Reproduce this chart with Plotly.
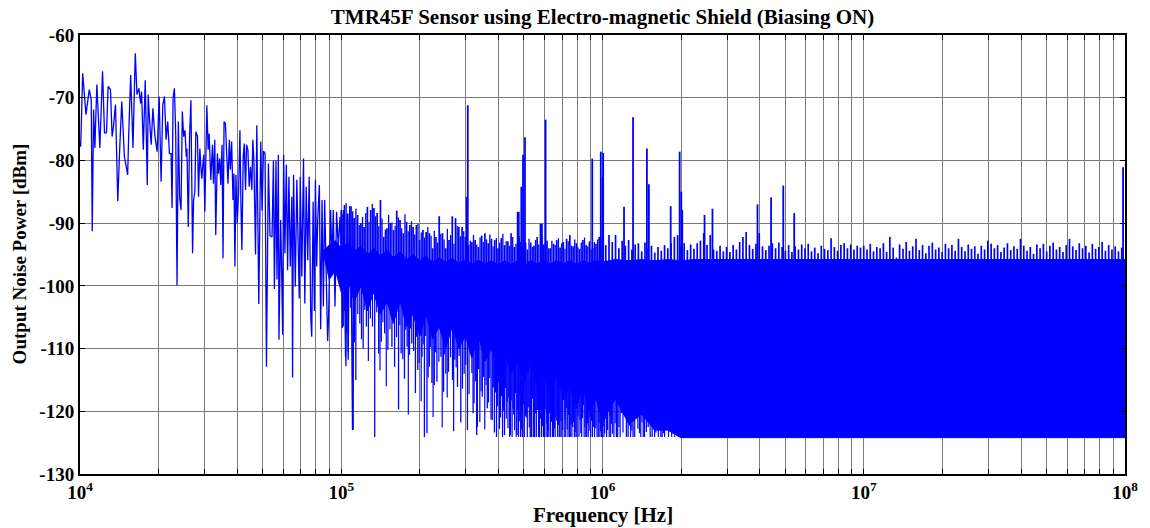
import plotly.graph_objects as go

# ---------------- data ----------------
# low-frequency trace, individual points (frequency in kHz, power in dBm)
lf_khz = [10.0, 10.06, 10.24, 10.54, 10.85, 11.04, 11.14, 11.27, 11.40, 11.60, 11.91, 12.20, 12.41, 12.63, 12.81,
          13.08, 13.27, 13.39, 13.67, 13.95, 14.20, 14.45, 14.79, 14.96, 15.22, 15.36, 15.63, 15.95, 16.28, 16.52,
          16.81, 17.06, 17.21, 17.47, 17.77, 18.09, 18.24, 18.46, 18.73, 19.01, 19.34,
          19.74, 20.09, 20.44, 20.74, 21.05, 21.36, 21.67, 21.99, 22.32, 22.51, 22.71, 22.98, 23.25, 23.52, 23.79,
          24.07, 24.36, 24.64, 24.93, 25.22, 25.52, 25.67, 25.97, 26.27, 26.58, 26.97, 27.21, 27.52, 27.77, 28.17,
          28.42, 28.76, 29.01, 29.27, 29.52, 29.78, 30.05, 30.31, 30.58, 30.94, 31.21, 31.67, 32.14, 32.42, 32.80,
          33.08, 33.57, 33.87, 34.26, 34.57, 34.97, 35.28, 35.59, 36.01, 36.43, 36.86, 37.29, 37.62, 38.06, 38.51,
          38.84, 39.18, 39.53, 39.99, 40.46, 40.94, 41.30, 41.66, 42.15, 42.52, 43.02, 43.40, 43.91, 44.43, 44.95,
          45.48, 45.87,
          46.29, 46.98, 47.51, 48.35, 49.20, 49.77, 50.38, 51.09, 51.72, 52.63, 53.38, 54.33, 55.00, 55.48, 56.26,
          56.75, 57.45, 57.75, 58.62, 59.14, 59.66, 60.18, 60.87, 61.62, 62.32, 63.04, 63.81, 64.71, 65.11, 65.68,
          66.68, 67.61, 68.63, 69.06, 69.66, 70.63, 71.70, 72.53, 73.42, 74.45, 75.37, 76.43, 77.10, 78.05, 78.93,
          79.63, 80.55, 81.26, 82.46, 83.42, 84.44, 85.42, 86.40, 87.46, 88.69, 89.47, 91.05, 92.17, 93.24, 94.63,
          95.97, 97.41, 98.88, 100.26, 100.9, 101.8, 104.2, 105.4, 106.3, 107.7, 109.4, 110.4, 112.0]
lf_db = [-77.0, -77.8, -66.1, -72.7, -68.7, -70.3, -91.3, -71.9, -78.0, -67.9, -78.0, -65.8, -75.6, -75.6, -68.2,
         -68.7, -76.2, -75.1, -71.1, -86.5, -77.8, -70.6, -79.4, -80.4, -82.3, -76.0, -66.4, -78.0, -62.9, -69.5,
         -68.5, -70.9, -69.0, -78.3, -67.2, -83.9, -69.5, -73.5, -77.5, -71.7, -76.0,
         -78.6, -69.8, -83.4, -71.2, -69.8, -76.7, -73.8, -78.9, -78.9, -87.6, -70.1, -68.5, -75.9, -99.9, -73.8,
         -86.0, -87.9, -72.2, -76.2, -75.2, -79.4, -78.1, -90.6, -76.2, -70.4, -94.8, -86.3, -85.0, -75.4, -76.2,
         -85.8, -78.1, -81.0, -82.9, -80.7, -79.1, -88.2, -76.2, -71.2, -78.3, -75.7, -83.1, -77.5, -83.7, -76.7,
         -91.9, -78.9, -82.1, -79.7, -83.9, -77.5, -95.6, -73.8, -74.1, -79.4, -83.7, -76.7, -81.5, -77.0, -86.3,
         -82.1, -96.9, -82.3, -90.0, -85.0, -75.2, -86.8, -94.3, -79.4, -77.3, -84.7, -77.5, -78.3, -84.2, -81.0,
         -84.7, -76.7,
         -79.9, -95.0, -74.4, -102.9, -77.0, -88.0, -78.5, -78.9, -112.9, -80.5, -92.0, -92.2, -80.0, -100.5, -80.0,
         -99.0, -79.1, -108.6, -89.5, -97.5, -107.8, -79.1, -94.8, -80.7, -97.5, -82.6, -96.9, -85.8, -114.6, -82.3,
         -100.1, -83.1, -101.2, -102.0, -82.6, -98.5, -79.7, -102.8, -84.2, -95.9, -82.6, -104.9, -108.1, -86.6, -104.0,
         -83.1, -96.9, -89.5, -83.9, -106.9, -86.3, -103.3, -86.3, -97.5, -108.8, -104.9, -87.9, -95.9, -87.9, -103.3,
         -88.2, -93.8, -89.0, -95.9, -106.7, -87.9, -112.8, -88.5, -111.8, -87.3, -100.9, -123.0, -89.2]

# dense noise core: upper and lower edge of the solid band
band_khz = [85, 90, 95, 100, 106, 112, 119, 126, 133, 141, 150, 158, 168, 178, 188, 200, 211, 224, 237, 251,
            266, 282, 299, 316, 335, 355, 376, 398, 422, 447, 473, 501, 531, 562, 596, 631, 668, 708, 750, 794,
            841, 891, 944, 1000, 1122, 1259, 1413, 1585, 1778, 1995, 2239, 2512, 100000]
band_top_db = [-94.5, -93.5, -92.8, -94.0, -93.2, -94.5, -93.6, -95.0, -94.0, -95.2, -94.3, -95.5, -94.6, -95.8,
               -95.0, -96.0, -95.2, -96.2, -95.5, -96.3, -95.6, -96.4, -95.8, -96.5, -95.9, -96.5, -96.0, -96.6,
               -96.0, -96.6, -96.0, -96.6, -96.0, -96.5, -96.0, -96.5, -96.0, -96.5, -96.0, -96.5, -96.0, -96.4,
               -96.0, -96.2, -95.8, -96.0, -95.8, -96.0, -95.8, -96.0, -95.8, -95.8, -95.8]
band_bottom_db = [-94.5, -99.0, -97.5, -101.0, -99.0, -102.5, -100.0, -104.0, -101.0, -104.5, -102.5, -106.0,
                  -102.5, -106.5, -104.5, -108.0, -104.5, -108.5, -106.5, -110.0, -106.5, -110.0, -108.0, -111.5,
                  -108.0, -112.0, -110.0, -113.5, -110.0, -114.0, -112.0, -115.5, -112.0, -116.0, -114.0, -117.5,
                  -114.0, -118.0, -116.0, -119.5, -116.0, -120.0, -118.0, -121.5, -118.0, -122.0, -120.5, -123.0,
                  -123.0, -124.2, -124.2, -124.2, -124.2]

# ragged top of the noise floor (local maxima)
comb_khz = [100.0, 102.9, 105.9, 109.0, 112.2, 115.5, 118.9, 122.3, 125.9, 129.6,
            133.4, 137.2, 141.3, 145.4, 149.6, 154.0, 158.5, 163.1, 167.9, 172.8,
            177.8, 183.0, 188.4, 193.9, 199.5, 205.4, 211.3, 217.5, 223.9, 230.4,
            237.1, 244.1, 251.2, 258.5, 266.1, 273.8, 281.8, 290.1, 298.5, 307.3,
            316.2, 325.5, 335.0, 344.7, 354.8, 365.2, 375.8, 386.8, 398.1, 409.7,
            421.7, 434.0, 446.7, 459.7, 473.2, 487.0, 501.2, 515.8, 530.9, 546.4,
            562.3, 578.8, 595.7, 613.1, 631.0, 649.4, 668.3, 687.9, 707.9, 728.6,
            749.9, 771.8, 794.3, 817.5, 841.4, 866.0, 891.3, 917.3, 944.1, 971.6,
            1000, 1029, 1059, 1090, 1122, 1155, 1189, 1223, 1259, 1296,
            1334, 1372, 1413, 1454, 1496, 1540, 1585, 1631, 1679, 1728,
            1778, 1830, 1884, 1939, 1995, 2054, 2113, 2175, 2239, 2304,
            2371, 2441, 2512, 2585, 2661, 2738, 2818, 2901, 2985, 3073,
            3162, 3255, 3350, 3447, 3548, 3652, 3758, 3868, 3981, 4097,
            4217, 4340, 4467, 4597, 4732, 4870, 5012, 5158, 5309, 5464,
            5623, 5788, 5957, 6131, 6310, 6494, 6683, 6879, 7079, 7286,
            7499, 7718, 7943, 8175, 8414, 8660, 8913, 9173, 9441, 9716,
            10000, 10290, 10590, 10900, 11220, 11550, 11890, 12230, 12590, 12960,
            13340, 13720, 14130, 14540, 14960, 15400, 15850, 16310, 16790, 17280,
            17780, 18300, 18840, 19390, 19950, 20540, 21130, 21750, 22390, 23040,
            23710, 24410, 25120, 25850, 26610, 27380, 28180, 29010, 29850, 30730,
            31620, 32550, 33500, 34470, 35480, 36520, 37580, 38680, 39810, 40970,
            42170, 43400, 44670, 45970, 47320, 48700, 50120, 51580, 53090, 54640,
            56230, 57880, 59570, 61310, 63100, 64940, 66830, 68790, 70790, 72860,
            74990, 77180, 79430, 81750, 84140, 86600, 89130, 91730, 94410, 97160]
comb_top_db = [-87.9, -87.1, -88.5, -87.3, -89.2, -88.7, -90.0, -90.6, -87.4, -87.9,
               -87.6, -88.4, -86.3, -92.2, -90.8, -90.0, -91.1, -88.0, -89.5, -91.6,
               -89.8, -90.3, -90.6, -90.3, -92.7, -91.1, -91.4, -91.6, -94.0, -92.2,
               -88.9, -91.6, -94.0, -92.7, -88.9, -89.2, -90.6, -90.6, -92.2, -93.5,
               -93.0, -92.7, -93.8, -92.0, -91.6, -93.2, -92.5, -92.7, -94.0, -92.4,
               -93.5, -92.9, -91.6, -93.8, -88.2, -93.0, -92.6, -94.2, -93.1, -93.6,
               -92.2, -90.1, -93.4, -92.8, -94.0, -93.3, -92.7, -93.9, -93.0, -92.5,
               -91.9, -93.7, -93.2, -94.1, -92.7, -93.5, -92.9, -94.0, -93.3, -92.2,
               -92.2, -93.5, -91.9, -93.0, -91.9, -94.0, -92.8, -93.6, -92.7, -94.2,
               -93.4, -93.2, -94.5, -93.1, -94.0, -93.6, -94.7, -93.8, -94.4, -93.5,
               -94.0, -93.2, -92.2, -91.9, -93.6, -93.2, -94.3, -93.4, -94.1, -93.2,
               -92.8, -91.6, -93.5, -91.9, -94.2, -94.4, -93.6, -94.5, -93.8, -94.6,
               -93.5, -94.2, -93.0, -92.2, -91.4, -93.5, -94.1, -93.3, -91.6, -93.7,
               -94.3, -93.6, -93.2, -94.0, -93.1, -93.8, -94.4, -93.5, -94.6, -93.7,
               -94.2, -93.4, -94.0, -93.3, -94.5, -93.9, -94.8, -93.6, -94.1, -94.3,
               -92.4, -93.8, -94.4, -93.5, -93.2, -94.0, -93.4, -94.2, -93.6, -93.9,
               -93.6, -94.2, -93.3, -94.5, -93.8, -94.0, -93.2, -94.6, -92.2, -93.9,
               -95.5, -93.4, -94.1, -93.0, -94.4, -93.7, -92.5, -94.3, -93.5, -94.8,
               -93.6, -93.1, -94.2, -93.9, -94.6, -93.3, -94.0, -93.5, -94.4, -92.5,
               -93.8, -94.5, -93.4, -94.1, -93.7, -94.9, -93.6, -94.2, -92.8, -93.3,
               -94.0, -93.5, -94.6, -93.9, -93.2, -94.3, -93.7, -94.1, -92.5, -93.6,
               -94.4, -93.8, -94.9, -93.4, -94.0, -93.3, -94.5, -93.6, -93.1, -94.2,
               -93.8, -94.6, -93.5, -92.5, -93.7, -94.3, -93.2, -94.0, -93.6, -94.7,
               -93.3, -94.1, -93.8, -93.0, -94.4, -93.5, -94.2, -93.7, -94.5, -93.9]

# further local maxima between the ones above (100 kHz - 1 MHz)
comb2_khz = [101.4, 104.4, 107.4, 110.6, 113.8, 117.2, 120.6, 124.1, 127.7, 131.5,
             135.3, 139.2, 143.3, 147.5, 151.8, 156.2, 160.8, 165.5, 170.3, 175.3,
             180.4, 185.7, 191.1, 196.7, 202.4, 208.4, 214.4, 220.7, 227.1, 233.7,
             240.5, 247.6, 254.8, 262.2, 270.0, 277.8, 285.9, 294.3, 302.8, 311.8,
             320.8, 330.2, 339.9, 349.7, 359.9, 370.5, 381.2, 392.4, 403.9, 415.6,
             427.8, 440.3, 453.2, 466.4, 480.1, 494.1, 508.5, 523.3, 538.6, 554.3,
             570.5, 587.2, 604.3, 622.0, 640.1, 658.8, 678.0, 697.9, 718.2, 739.2,
             760.8, 783.0, 805.8, 829.3, 853.6, 878.5, 904.2, 930.6, 957.8, 985.7]
comb2_top_db = [-88.6, -86.8, -89.4, -88.1, -87.7, -90.3, -89.0, -88.4, -89.8, -86.9,
                -88.9, -90.5, -89.3, -91.0, -88.7, -89.9, -90.4, -89.1, -90.8, -88.6,
                -91.3, -89.7, -91.8, -90.1, -91.5, -92.3, -90.6, -92.0, -91.2, -93.1,
                -91.7, -92.6, -90.9, -91.9, -93.3, -90.4, -92.1, -91.3, -87.8, -92.8,
                -91.9, -93.4, -92.3, -93.0, -92.6, -91.8, -93.7, -92.4, -93.1, -91.7,
                -92.9, -93.6, -92.2, -93.3, -92.0, -93.9, -93.1, -92.5, -93.8, -92.7,
                -93.4, -92.1, -93.0, -94.0, -92.8, -93.5, -92.4, -93.2, -94.1, -92.9,
                -93.6, -92.6, -93.9, -93.1, -92.3, -93.7, -94.2, -93.0, -92.6, -93.4]

# downward excursions below the core (local minima)
dip_khz = [101.8, 103.8, 106.3, 111.1, 113.7, 117.8, 121.3, 124.8, 129.2, 134.3, 139.1, 142.3, 146.6, 150.9,
           156.3, 160.0, 165.7, 169.5, 174.6, 178.7, 182.5, 186.2, 192.3, 196.3, 200.9, 203.8, 208.1, 212.9,
           217.4, 222.4, 227.1, 232.4, 240.7, 246.4, 251.4, 257.4, 266.6, 272.0, 278.6, 286.8, 295.4, 304.1,
           312.9, 319.6, 322.4, 329.9, 331.9, 346.7, 362.2, 378.5, 392.9, 407.0, 421.5, 431.5, 444.2, 457.5,
           470.9, 483.5, 493.4, 510.9, 529.1, 540.5, 552.8, 574.4, 595.0, 612.6, 627.0, 649.4, 668.4, 688.1,
           709.0, 727.8, 747.0, 768.9, 791.5, 819.7, 844.5, 869.5, 894.6, 921.8, 963.2, 991.3, 1020, 1054,
           1082, 1130, 1181, 1215, 1253, 1309, 1347, 1386, 1448, 1496, 1549, 1618, 1691, 1767]
dip_db = [-106.5, -111.3, -110.5, -123.0, -115.0, -106.0, -110.0, -106.5, -105.2, -124.1, -110.8, -108.9, -107.6,
          -110.2, -109.7, -112.9, -119.7, -110.8, -114.8, -109.7, -111.0, -109.2, -117.1, -113.4, -107.6, -111.3,
          -124.1, -123.5, -112.9, -115.5, -115.8, -115.3, -111.3, -116.9, -114.0, -113.7, -115.0, -111.8, -116.1,
          -121.8, -114.0, -123.0, -110.2, -120.3, -118.7, -123.8, -122.5, -117.7, -119.5, -121.4, -124.1, -121.0,
          -123.8, -118.5, -123.8, -120.5, -123.8, -117.5, -124.1, -121.0, -124.1, -118.0, -120.3, -124.1, -124.1,
          -122.0, -120.3, -124.1, -121.5, -124.1, -118.2, -119.5, -124.1, -122.5, -124.1, -121.4, -119.0, -124.1,
          -121.0, -122.5, -124.1, -124.1, -123.5, -117.5, -122.0, -124.1, -120.3, -119.0, -124.1, -124.1, -121.0,
          -123.5, -124.1, -122.5, -124.1, -121.0, -124.1, -122.0]

# further local minima between the ones above
dip2_khz = [102.8, 105.0, 108.7, 112.4, 115.7, 119.5, 123.0, 127.0, 131.7, 136.7, 140.7, 144.4, 148.7, 153.6,
            158.1, 162.8, 167.6, 172.0, 176.6, 180.6, 184.3, 189.2, 194.3, 198.6, 202.3, 205.9, 210.5, 215.1,
            219.9, 224.7, 229.7, 236.5, 243.5, 248.9, 254.4, 262.0, 269.3, 275.3, 282.7, 291.1, 299.7, 308.5,
            316.2, 326.1, 335.5, 339.2, 343.0, 350.5, 354.3, 358.2, 366.2, 370.2, 374.3, 382.0, 385.6, 389.2,
            396.4, 399.9, 403.5, 410.6, 414.2, 417.8, 424.9, 428.2, 434.6, 437.8, 441.0, 447.5, 450.8, 454.1,
            460.8, 464.2, 467.5, 474.0, 477.1, 480.3, 486.0, 488.4, 490.9, 497.7, 502.1, 506.5, 515.4, 520.0,
            524.5, 532.0, 535.2, 543.6, 546.7, 549.7, 558.2, 563.6, 569.0, 579.6, 584.7, 589.9, 599.4, 603.8,
            608.2, 616.2, 619.8, 623.4, 632.6, 638.2, 643.8, 654.1, 658.9, 663.6, 673.3, 678.3, 683.2, 693.3,
            698.5, 703.8, 713.7, 718.4, 723.1, 732.6, 737.4, 742.2, 752.5, 758.0, 763.4, 774.5, 780.2, 785.8,
            798.5, 805.6, 812.6, 825.9, 832.1, 838.3, 850.7, 857.0, 863.2, 875.8, 882.0, 888.3, 901.4, 908.2,
            915.0, 932.2, 942.5, 952.9, 970.2, 977.3, 984.3, 998.5, 1005.7, 1012.8, 1028.5, 1037, 1045.5, 1061,
            1068, 1075, 1094, 1106, 1118, 1143, 1156, 1168, 1198, 1234, 1267, 1281, 1295, 1328, 1366, 1401, 1417,
            1432, 1472, 1522, 1566, 1583, 1600, 1636, 1654, 1672, 1710, 1729, 1748, 1790, 1815, 1840, 1865, 1890,
            1920, 1950, 1980, 2010, 2050, 2090, 2130]
dip2_db = [-104.0, -107.5, -103.5, -109.0, -104.5, -108.5, -103.8, -112.0, -106.5, -104.2, -113.5, -105.8, -116.0,
           -106.9, -104.8, -108.2, -106.3, -111.7, -107.0, -120.5, -106.8, -110.4, -108.1, -112.3, -118.4, -109.3,
           -108.0, -114.6, -109.8, -120.9, -110.6, -112.1, -122.6, -110.9, -117.8, -111.4, -123.2, -113.0, -111.2,
           -116.4, -112.6, -117.3, -113.9, -115.2, -113.3, -121.7, -116.8, -114.5, -122.9, -115.8, -118.6, -114.7,
           -121.3, -116.2, -123.4, -117.0, -119.2, -115.4, -122.8, -117.6, -124.1, -119.9, -116.3, -121.2, -122.7,
           -117.8, -124.1, -118.3, -124.1, -119.6, -123.0, -117.1, -124.1, -119.8, -124.1, -121.6, -124.1, -120.2,
           -122.9, -118.9, -124.1, -120.7, -124.1, -119.4, -122.6, -120.8, -124.1, -124.1, -121.9, -124.1, -124.1,
           -119.8, -124.1, -121.2, -124.1, -122.4, -124.1, -119.7, -124.1, -124.1, -123.1, -124.1, -124.1, -121.7,
           -124.1, -122.8, -124.1, -120.9, -124.1, -122.2, -124.1, -121.6, -124.1, -123.0, -124.1, -121.3, -124.1,
           -122.9, -124.1, -120.6, -124.1, -122.1, -124.1, -121.7, -124.1, -123.3, -124.1, -120.8, -124.1, -123.5,
           -124.1, -121.1, -124.1, -122.6, -124.1, -121.9, -124.1, -123.1, -124.1, -121.5, -124.1, -124.1, -122.7,
           -124.1, -121.9, -124.1, -123.2, -124.1, -122.4, -124.1, -121.2, -124.1, -123.0, -124.1, -120.8, -124.1,
           -123.6, -124.1, -121.9, -124.1, -122.5, -124.1, -123.4, -124.1, -122.3, -124.1, -123.1, -124.1, -122.8,
           -124.1, -121.8, -124.1, -123.3, -124.1, -122.9, -124.1, -123.4, -124.1, -122.7, -124.1, -123.5, -124.1,
           -122.8, -124.1, -123.2, -124.1, -123.6, -124.1, -123.0, -124.1, -123.8, -124.1, -123.5, -124.1, -123.9]

# tall isolated spectral lines
peak_khz = [302.2, 305.0, 478.0, 489.0, 496.3, 505.0, 586.3, 605.6, 913.7, 985.0, 1000.0, 1006.0, 1209.0, 1309.0,
            1479.0, 1505.0, 1824.0, 1974.0, 2002.0, 2020.0, 2458.0, 2636.0, 3920.0, 4418.0, 4920.0, 5418.0, 98300.0]
peak_db = [-85.8, -71.2, -88.2, -84.2, -79.1, -76.3, -90.1, -73.5, -79.7, -78.6, -82.6, -78.8, -87.4, -73.1,
           -78.1, -83.8, -87.3, -78.6, -85.0, -87.9, -88.7, -87.7, -87.0, -85.9, -84.0, -88.4, -81.1]

# axis ticks
x_tick_hz = [1e4, 2e4, 3e4, 4e4, 5e4, 6e4, 7e4, 8e4, 9e4,
             1e5, 2e5, 3e5, 4e5, 5e5, 6e5, 7e5, 8e5, 9e5,
             1e6, 2e6, 3e6, 4e6, 5e6, 6e6, 7e6, 8e6, 9e6,
             1e7, 2e7, 3e7, 4e7, 5e7, 6e7, 7e7, 8e7, 9e7, 1e8]
x_tick_labels = ['10<sup>4</sup>', '', '', '', '', '', '', '', '',
                 '10<sup>5</sup>', '', '', '', '', '', '', '', '',
                 '10<sup>6</sup>', '', '', '', '', '', '', '', '',
                 '10<sup>7</sup>', '', '', '', '', '', '', '', '', '10<sup>8</sup>']
y_tick_db = [-130, -120, -110, -100, -90, -80, -70, -60]
y_tick_labels = ['-130', '-120', '-110', '-100', '-90', '-80', '-70', '-60']

title_text = 'TMR45F Sensor using Electro-magnetic Shield (Biasing ON)'
x_title = 'Frequency [Hz]'
y_title = 'Output Noise Power [dBm]'

assert len(lf_khz) == len(lf_db)
assert len(band_khz) == len(band_top_db) == len(band_bottom_db)
assert len(comb_khz) == len(comb_top_db)
assert len(comb2_khz) == len(comb2_top_db)
assert len(dip_khz) == len(dip_db)
assert len(dip2_khz) == len(dip2_db)
assert len(peak_khz) == len(peak_db)

# ---------------- figure ----------------
BLUE = '#0000ff'
SPIKE_BASE_DB = -100.0
FONT = 'Liberation Serif, Times New Roman, serif'


def vertical_segments(freqs_khz, ends_db):
    xs, ys = [], []
    for f, v in zip(freqs_khz, ends_db):
        xs += [f * 1e3, f * 1e3, None]
        ys += [SPIKE_BASE_DB, v, None]
    return xs, ys


fig = go.Figure()

band_x = [f * 1e3 for f in band_khz] + [f * 1e3 for f in band_khz[::-1]]
band_y = band_top_db + band_bottom_db[::-1]
fig.add_trace(go.Scatter(x=band_x, y=band_y, mode='lines', fill='toself', fillcolor=BLUE,
                         line=dict(color=BLUE, width=1), hoverinfo='skip'))

for fr, vals, w in [(comb_khz, comb_top_db, 1.7), (comb2_khz, comb2_top_db, 1.3),
                    (dip_khz, dip_db, 1.3), (dip2_khz, dip2_db, 1.2), (peak_khz, peak_db, 1.8)]:
    sx, sy = vertical_segments(fr, vals)
    fig.add_trace(go.Scatter(x=sx, y=sy, mode='lines', line=dict(color=BLUE, width=w), hoverinfo='skip'))

fig.add_trace(go.Scatter(x=[f * 1e3 for f in lf_khz], y=lf_db, mode='lines',
                         line=dict(color=BLUE, width=1.3)))

axis_common = dict(
    showline=True, linecolor='black', linewidth=2, mirror='allticks',
    ticks='inside', ticklen=5, tickwidth=1, tickcolor='black',
    showgrid=True, gridcolor='#7a7a7a', gridwidth=1, zeroline=False,
    tickfont=dict(family=FONT, size=19, color='black', weight='bold'),
)

fig.update_layout(
    width=1150, height=528,
    margin=dict(l=80, r=18, t=35, b=54),
    paper_bgcolor='white', plot_bgcolor='white',
    showlegend=False,
    font=dict(family=FONT, size=19, color='black'),
    title=dict(text='<b>' + title_text + '</b>', x=0.5, xref='paper', xanchor='center',
               y=1 - 17 / 528, yref='container', yanchor='middle',
               font=dict(family=FONT, size=21, color='black')),
    xaxis=dict(type='log', range=[4, 8], tickvals=x_tick_hz, ticktext=x_tick_labels, **axis_common),
    yaxis=dict(range=[-130, -60], tickvals=y_tick_db, ticktext=y_tick_labels, **axis_common),
    annotations=[
        dict(text='<b>' + x_title + '</b>', x=0.5, y=(474 - 515) / 439, xref='paper', yref='paper',
             xanchor='center', yanchor='middle', showarrow=False,
             font=dict(family=FONT, size=21, color='black')),
        dict(text='<b>' + y_title + '</b>', x=(20 - 80) / 1052, y=(474 - 254) / 439, xref='paper', yref='paper',
             xanchor='center', yanchor='middle', showarrow=False, textangle=-90,
             font=dict(family=FONT, size=19, color='black')),
    ],
)

fig.write_html('out.html')
